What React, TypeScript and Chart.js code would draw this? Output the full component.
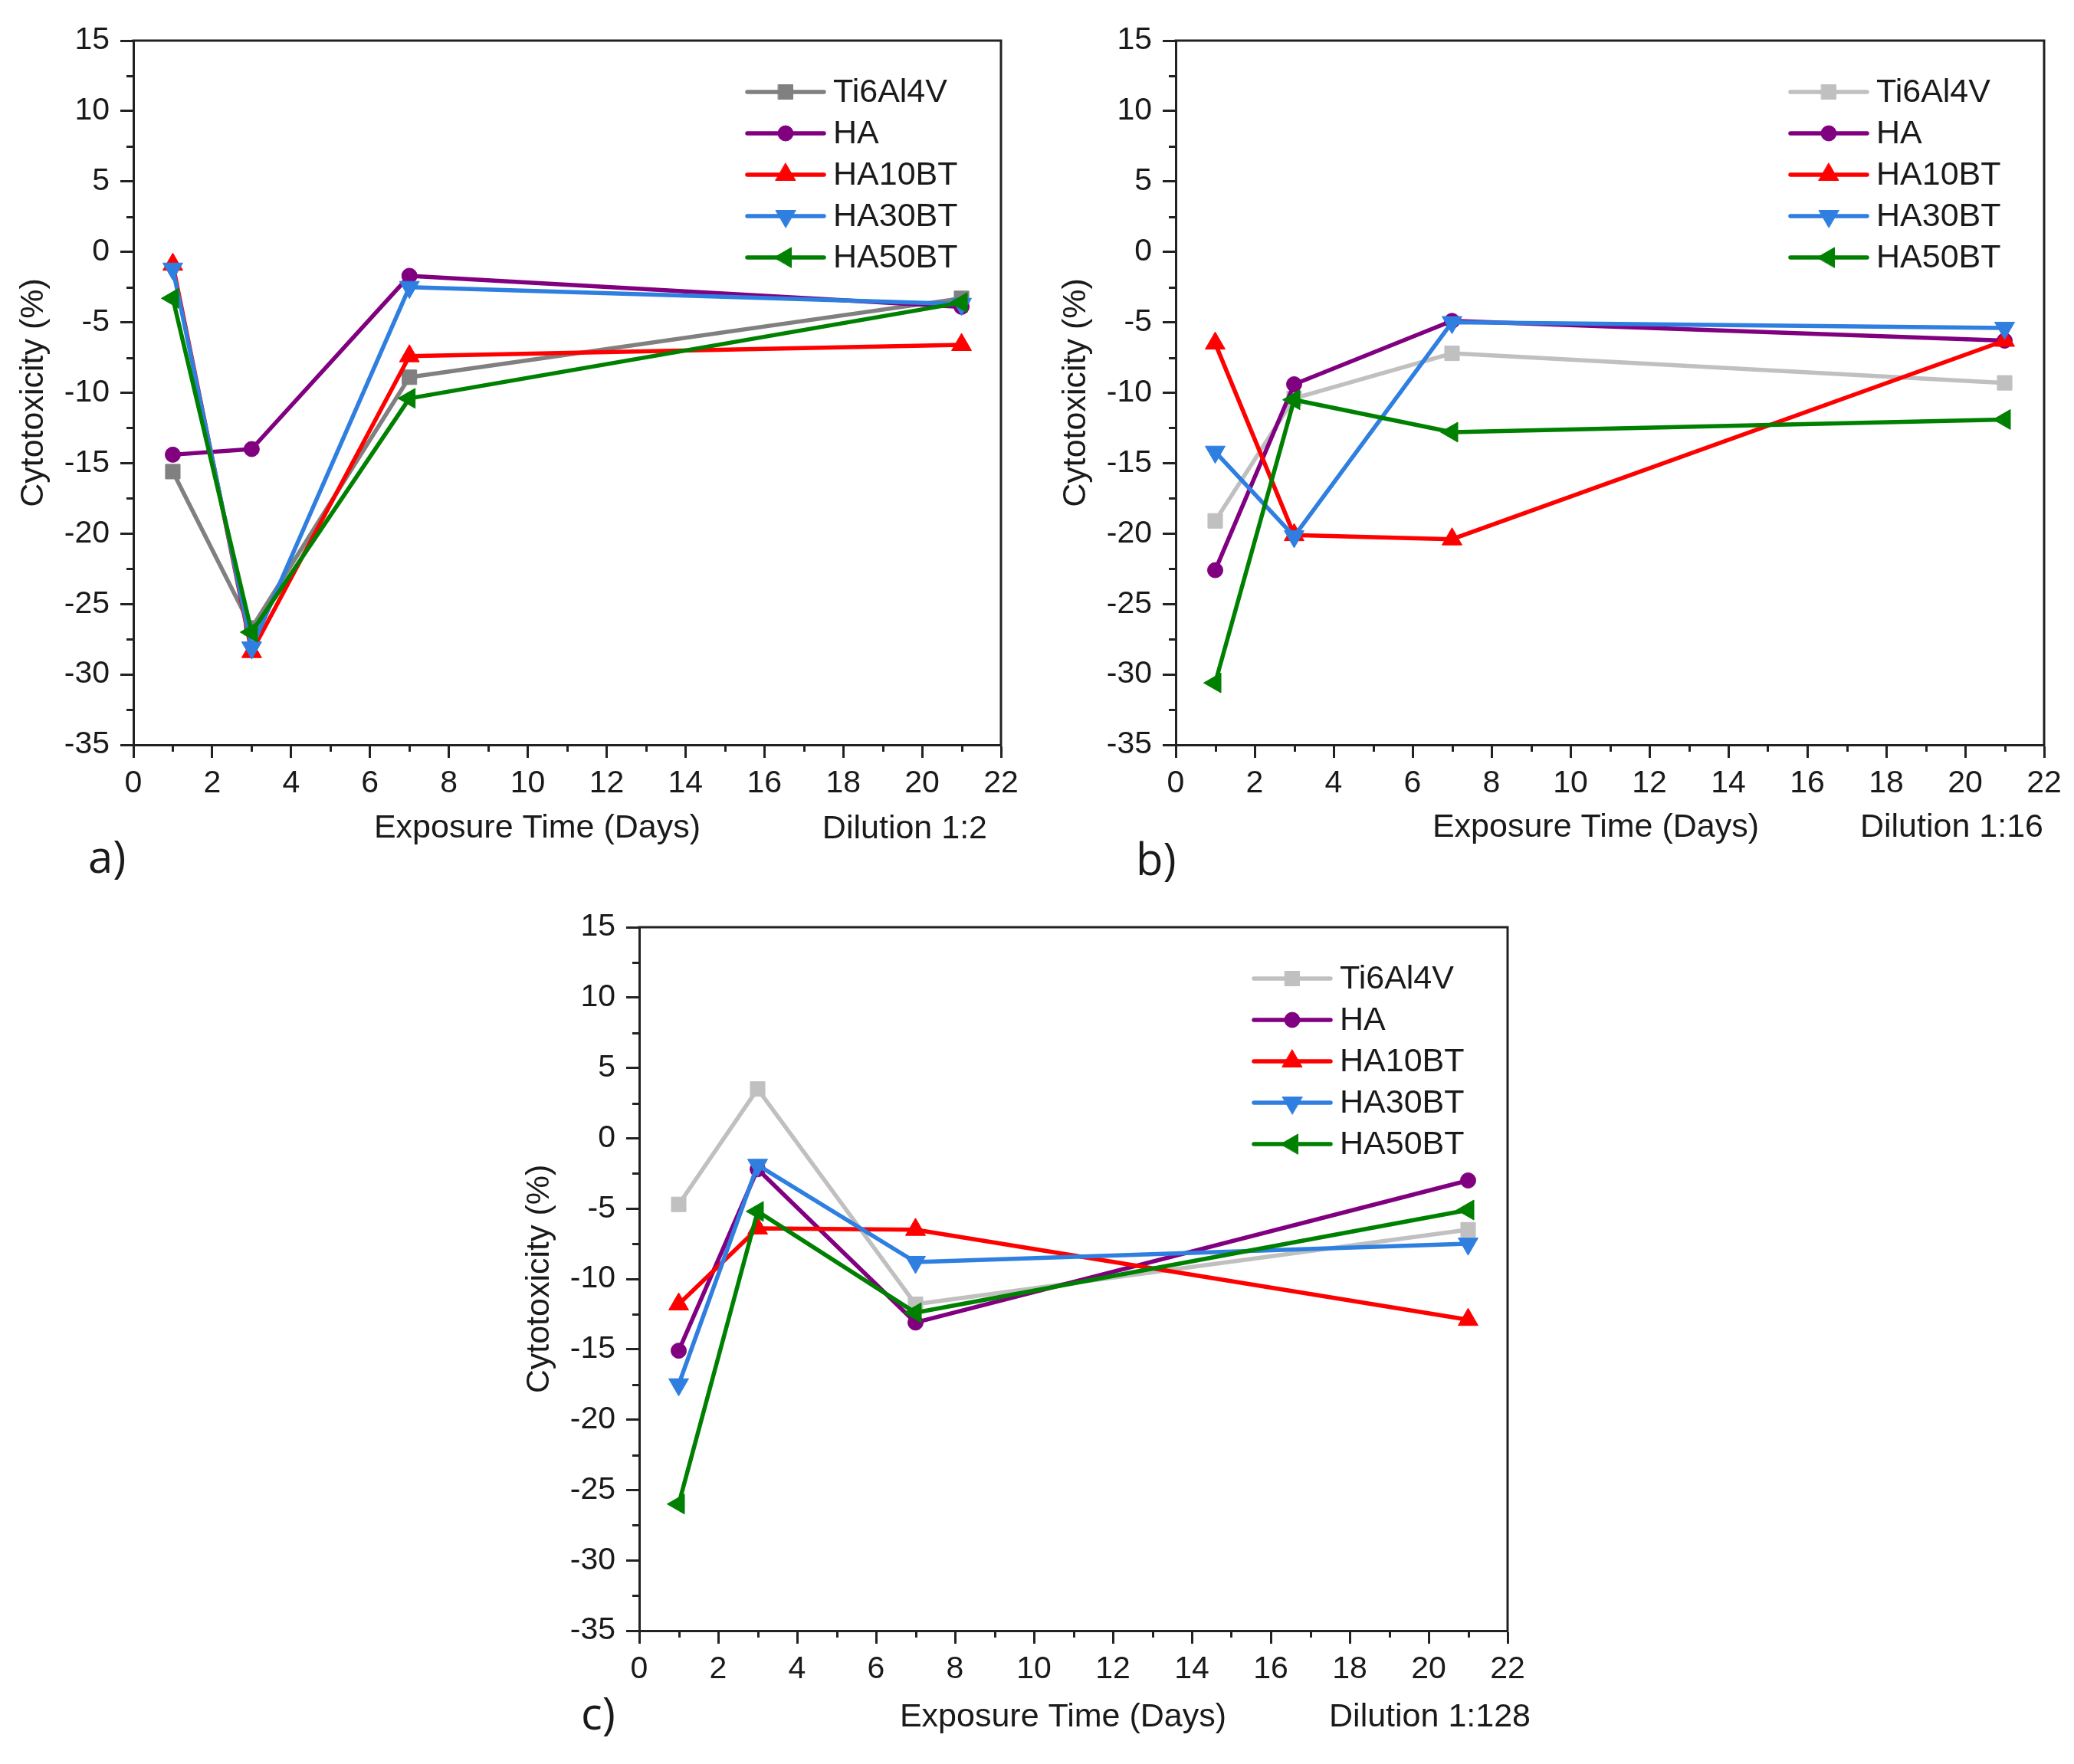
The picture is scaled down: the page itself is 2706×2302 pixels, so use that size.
import React, { useEffect, useRef } from 'react';
import { Chart, registerables } from 'chart.js';
import { drawPoint } from 'chart.js/helpers';

Chart.register(...registerables);

// ---------------- data ----------------
const days = [1, 3, 7, 21];
const seriesNames = ['Ti6Al4V', 'HA', 'HA10BT', 'HA30BT', 'HA50BT'];

const xTickValues = [0, 2, 4, 6, 8, 10, 12, 14, 16, 18, 20, 22];
const yTickValues = [-35, -30, -25, -20, -15, -10, -5, 0, 5, 10, 15];
const xMinorTicks = [1, 3, 5, 7, 9, 11, 13, 15, 17, 19, 21];
const yMinorTicks = [-32.5, -27.5, -22.5, -17.5, -12.5, -7.5, -2.5, 2.5, 7.5, 12.5];

// Dilution 1:2
const a_Ti6Al4V = [-15.6, -26.7, -8.9, -3.3];
const a_HA = [-14.4, -14.0, -1.7, -3.9];
const a_HA10BT = [-0.9, -28.4, -7.4, -6.6];
const a_HA30BT = [-1.2, -28.1, -2.5, -3.7];
const a_HA50BT = [-3.3, -27.0, -10.4, -3.6];

// Dilution 1:16
const b_Ti6Al4V = [-19.1, -10.4, -7.2, -9.3];
const b_HA = [-22.6, -9.4, -4.9, -6.3];
const b_HA10BT = [-6.5, -20.1, -20.4, -6.3];
const b_HA30BT = [-14.2, -20.2, -5.0, -5.4];
const b_HA50BT = [-30.6, -10.5, -12.8, -11.9];

// Dilution 1:128
const c_Ti6Al4V = [-4.7, 3.5, -11.8, -6.5];
const c_HA = [-15.1, -2.2, -13.1, -3.0];
const c_HA10BT = [-11.8, -6.4, -6.5, -12.9];
const c_HA30BT = [-17.5, -1.9, -8.8, -7.5];
const c_HA50BT = [-26.0, -5.2, -12.4, -5.1];

// ---------------- styles / layout ----------------
const FONT = '"Liberation Sans", Arial, Helvetica, sans-serif';
const LETTER_FONT = '"Open Sans", "Noto Sans", sans-serif';
const AXIS_COLOR = '#222222';
const TEXT_COLOR = '#1a1a1a';
const Y_AXIS_W = 174;
const TOP_PAD = 53;
const LINE_W = 5.5;

const markerStyles = [
  { pointStyle: 'rect', radius: 13.5, rotation: 0 },
  { pointStyle: 'circle', radius: 10, rotation: 0 },
  { pointStyle: 'triangle', radius: 15, rotation: 0 },
  { pointStyle: 'triangle', radius: 15, rotation: 180 },
  { pointStyle: 'triangle', radius: 15, rotation: 270 },
];
const baseColors = ['#808080', '#800080', '#ff0000', '#2f7fe0', '#008000'];

type PanelCfg = {
  letter: string;
  dilution: string;
  left: number;
  top: number;
  width: number;
  height: number;
  plotW: number;
  plotH: number;
  tiColor: string;
  series: number[][];
  expoDx: number;
  expoDy: number;
  dilDx: number;
  dilDy: number;
  letDx: number;
  letDy: number;
};

const panels: PanelCfg[] = [
  {
    letter: 'a)', dilution: 'Dilution 1:2',
    left: 0, top: 0, width: 1353, height: 1172, plotW: 1132, plotH: 919,
    tiColor: '#808080',
    series: [a_Ti6Al4V, a_HA, a_HA10BT, a_HA30BT, a_HA50BT],
    expoDx: 527, expoDy: 121, dilDx: -18, dilDy: 122, letDx: -59, letDy: 167,
  },
  {
    letter: 'b)', dilution: 'Dilution 1:16',
    left: 1360, top: 0, width: 1346, height: 1172, plotW: 1133, plotH: 919,
    tiColor: '#c0c0c0',
    series: [b_Ti6Al4V, b_HA, b_HA10BT, b_HA30BT, b_HA50BT],
    expoDx: 548, expoDy: 120, dilDx: -1, dilDy: 120, letDx: -52, letDy: 170,
  },
  {
    letter: 'c)', dilution: 'Dilution 1:128',
    left: 660, top: 1157, width: 1367, height: 1145, plotW: 1133, plotH: 918,
    tiColor: '#c0c0c0',
    series: [c_Ti6Al4V, c_HA, c_HA10BT, c_HA30BT, c_HA50BT],
    expoDx: 553, expoDy: 125, dilDx: 30, dilDy: 125, letDx: -76, letDy: 129,
  },
];

function Panel({ cfg }: { cfg: PanelCfg }) {
  const ref = useRef<HTMLCanvasElement | null>(null);

  useEffect(() => {
    const canvas = ref.current;
    if (!canvas) return;
    const colors = baseColors.map((c, i) => (i === 0 ? cfg.tiColor : c));

    const datasets = seriesNames.map((name, i) => ({
      label: name,
      data: days.map((d, j) => ({ x: d, y: cfg.series[i][j] })),
      borderColor: colors[i],
      backgroundColor: colors[i],
      borderWidth: LINE_W,
      tension: 0,
      borderJoinStyle: 'round' as const,
      borderCapStyle: 'round' as const,
      pointStyle: markerStyles[i].pointStyle as any,
      pointRadius: markerStyles[i].radius,
      pointRotation: markerStyles[i].rotation,
      pointBorderWidth: 1,
      pointBorderColor: colors[i],
      pointBackgroundColor: colors[i],
      order: seriesNames.length - i,
    }));

    const framePlugin = {
      id: 'frameAndMinor',
      beforeDatasetsDraw(chart: any) {
        const { ctx, chartArea } = chart;
        const { left, top, right, bottom } = chartArea;
        const xs = chart.scales.x;
        const ys = chart.scales.y;
        ctx.save();
        ctx.strokeStyle = AXIS_COLOR;
        ctx.lineWidth = 3;
        ctx.lineCap = 'butt';
        ctx.beginPath();
        ctx.moveTo(left - 1.5, top);
        ctx.lineTo(right, top);
        ctx.moveTo(right, top - 1.5);
        ctx.lineTo(right, bottom + 1.5);
        xMinorTicks.forEach((v) => {
          const px = Math.round(xs.getPixelForValue(v)) + 0.5;
          ctx.moveTo(px, bottom);
          ctx.lineTo(px, bottom + 9);
        });
        yMinorTicks.forEach((v) => {
          const py = Math.round(ys.getPixelForValue(v)) + 0.5;
          ctx.moveTo(left, py);
          ctx.lineTo(left - 9, py);
        });
        ctx.stroke();
        ctx.restore();
      },
    };

    const textPlugin = {
      id: 'panelTexts',
      afterDraw(chart: any) {
        const { ctx, chartArea } = chart;
        const { left, top, right, bottom } = chartArea;
        ctx.save();
        // legend
        ctx.font = `43px ${FONT}`;
        ctx.textBaseline = 'middle';
        ctx.textAlign = 'left';
        chart.data.datasets.forEach((ds: any, i: number) => {
          const y = top + 67 + 54 * i;
          ctx.strokeStyle = ds.borderColor;
          ctx.fillStyle = ds.borderColor;
          ctx.lineWidth = LINE_W;
          ctx.lineCap = 'round';
          ctx.beginPath();
          ctx.moveTo(right - 331, y);
          ctx.lineTo(right - 231, y);
          ctx.stroke();
          ctx.lineWidth = 1;
          drawPoint(ctx, {
            pointStyle: ds.pointStyle,
            radius: ds.pointRadius,
            rotation: ds.pointRotation,
            borderWidth: 1,
          } as any, right - 281, y);
          ctx.fillStyle = TEXT_COLOR;
          ctx.fillText(ds.label, right - 219, y + 1);
        });
        // axis caption and dilution
        ctx.textBaseline = 'alphabetic';
        ctx.fillStyle = TEXT_COLOR;
        ctx.font = `43px ${FONT}`;
        ctx.textAlign = 'center';
        ctx.fillText('Exposure Time (Days)', left + cfg.expoDx, bottom + cfg.expoDy);
        ctx.textAlign = 'right';
        ctx.fillText(cfg.dilution, right + cfg.dilDx, bottom + cfg.dilDy);
        // panel letter
        ctx.font = `58px ${LETTER_FONT}`;
        ctx.textAlign = 'left';
        ctx.fillText(cfg.letter, left + cfg.letDx, bottom + cfg.letDy);
        ctx.restore();
      },
    };

    const xHeight = cfg.height - TOP_PAD - cfg.plotH;
    const rightPad = cfg.width - Y_AXIS_W - cfg.plotW;

    const chart = new Chart(canvas, {
      type: 'line',
      data: { datasets: datasets as any },
      options: {
        animation: false,
        responsive: false,
        maintainAspectRatio: false,
        layout: { padding: { top: TOP_PAD, right: rightPad, left: 0, bottom: 0 } },
        plugins: {
          legend: { display: false },
          tooltip: { enabled: false },
          title: { display: false },
        },
        scales: {
          x: {
            type: 'linear',
            min: 0,
            max: 22,
            afterBuildTicks: (scale: any) => {
              scale.ticks = xTickValues.map((v) => ({ value: v }));
            },
            afterFit: (scale: any) => {
              scale.height = xHeight;
            },
            grid: {
              display: true,
              drawOnChartArea: false,
              drawTicks: true,
              tickLength: 17,
              tickWidth: 3,
              tickColor: AXIS_COLOR,
            },
            border: { display: true, color: AXIS_COLOR, width: 3 },
            ticks: {
              autoSkip: false,
              maxRotation: 0,
              minRotation: 0,
              padding: 9,
              color: TEXT_COLOR,
              font: { family: FONT, size: 41, lineHeight: 1.2 },
              callback: (v: any) => String(v),
            },
          },
          y: {
            type: 'linear',
            min: -35,
            max: 15,
            afterBuildTicks: (scale: any) => {
              scale.ticks = yTickValues.map((v) => ({ value: v }));
            },
            afterFit: (scale: any) => {
              scale.width = Y_AXIS_W;
            },
            grid: {
              display: true,
              drawOnChartArea: false,
              drawTicks: true,
              tickLength: 17,
              tickWidth: 3,
              tickColor: AXIS_COLOR,
            },
            border: { display: true, color: AXIS_COLOR, width: 3 },
            ticks: {
              autoSkip: false,
              padding: 14,
              color: TEXT_COLOR,
              font: { family: FONT, size: 41, lineHeight: 1.2 },
              callback: (v: any) => String(v),
            },
            title: {
              display: true,
              text: 'Cytotoxicity (%)',
              color: TEXT_COLOR,
              font: { family: FONT, size: 43, lineHeight: 1.2 },
              padding: { top: 18, bottom: 0 },
            },
          },
        },
      },
      plugins: [framePlugin, textPlugin],
    });

    return () => chart.destroy();
  }, [cfg]);

  return (
    <canvas
      ref={ref}
      width={cfg.width}
      height={cfg.height}
      style={{
        position: 'absolute',
        left: cfg.left,
        top: cfg.top,
        width: cfg.width,
        height: cfg.height,
      }}
    />
  );
}

export default function App() {
  return (
    <div
      style={{
        position: 'absolute',
        left: 0,
        top: 0,
        width: 2706,
        height: 2302,
        background: '#ffffff',
        overflow: 'hidden',
      }}
    >
      {panels.map((p) => (
        <Panel key={p.letter} cfg={p} />
      ))}
    </div>
  );
}
